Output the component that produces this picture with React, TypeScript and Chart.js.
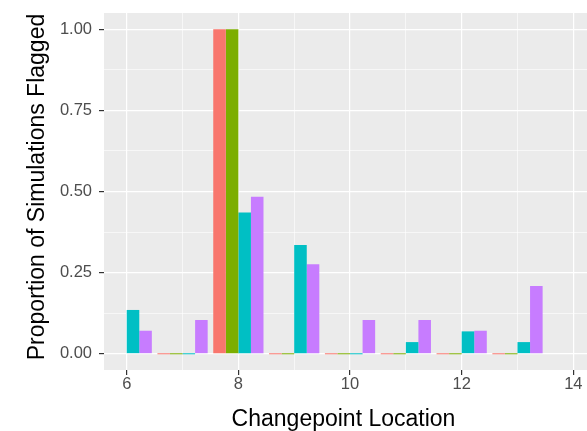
import React, { useEffect, useRef } from "react";
import { Chart, registerables } from "chart.js";

Chart.register(...registerables);

const categories = [6, 7, 8, 9, 10, 11, 12, 13];
const seriesRed = [null, 0, 1, 0, 0, 0, 0, 0];
const seriesGreen = [null, 0, 1, 0, 0, 0, 0, 0];
const seriesCyan = [0.135, 0, 0.435, 0.335, 0, 0.036, 0.069, 0.036];
const seriesPurple = [0.071, 0.104, 0.484, 0.276, 0.104, 0.104, 0.071, 0.209];
const seriesNames = ["A", "B", "C", "D"];
const seriesColors = ["#F8766D", "#7CAE00", "#00BFC4", "#C77CFF"];
const xTicks = [6, 7, 8, 9, 10, 11, 12, 13, 14];
const yTicks = [0, 0.125, 0.25, 0.375, 0.5, 0.625, 0.75, 0.875, 1];

const FONT = '"Liberation Sans", Arial, Helvetica, sans-serif';

export default function App() {
  const ref = useRef<HTMLCanvasElement | null>(null);
  useEffect(() => {
    if (!ref.current) return;
    const all = [seriesRed, seriesGreen, seriesCyan, seriesPurple];
    const panelPlugin = {
      id: "panel",
      beforeDraw(chart: any) {
        const { ctx, chartArea } = chart;
        ctx.save();
        ctx.fillStyle = "#EBEBEB";
        ctx.fillRect(chartArea.left, chartArea.top, chartArea.right - chartArea.left, chartArea.bottom - chartArea.top);
        ctx.restore();
      },
      afterDraw(chart: any) {
        const { ctx } = chart;
        ctx.save();
        ctx.fillStyle = "#000000";
        ctx.font = `23px ${FONT}`;
        ctx.textAlign = "center";
        ctx.textBaseline = "alphabetic";
        ctx.fillText("Changepoint Location", 343.5, 425.5);
        ctx.translate(43.5, 187);
        ctx.rotate(-Math.PI / 2);
        ctx.fillText("Proportion of Simulations Flagged", 0, 0);
        ctx.restore();
      },
    };
    const chart = new Chart(ref.current, {
      type: "bar",
      data: {
        datasets: all.map((s, i) => ({
          label: seriesNames[i],
          data: categories.map((c, j) => ({ x: c, y: s[j] })),
          backgroundColor: seriesColors[i],
          borderWidth: 0,
          minBarLength: 1,
          categoryPercentage: 0.9,
          barPercentage: 1,
        })),
      } as any,
      options: {
        animation: false,
        responsive: false,
        devicePixelRatio: 1,
        layout: { padding: { left: 0, right: 0, top: 13, bottom: 0 } },
        plugins: { legend: { display: false }, tooltip: { enabled: false } },
        scales: {
          x: {
            type: "linear",
            min: 5.593,
            max: 14.245,
            offset: false,
            afterBuildTicks: (scale: any) => {
              scale.ticks = xTicks.map((v) => ({ value: v }));
            },
            afterFit: (scale: any) => {
              scale.height = 61;
              scale.paddingLeft = 0;
              scale.paddingRight = 0;
            },
            ticks: {
              autoSkip: false,
              maxRotation: 0,
              padding: 0,
              color: "#4D4D4D",
              font: { family: FONT, size: 16.5 },
              callback: (v: any) => (Number(v) % 2 === 0 ? String(v) : ""),
            },
            grid: {
              offset: false,
              color: "#FFFFFF",
              lineWidth: (c: any) => (c.tick && c.tick.value % 2 === 0 ? 1.2 : 0.6),
              tickColor: (c: any) => (c.tick && c.tick.value % 2 === 0 ? "#333333" : "rgba(0,0,0,0)"),
              tickLength: 5,
              tickWidth: 1.2,
            },
            border: { display: false },
          },
          y: {
            type: "linear",
            min: -0.05,
            max: 1.05,
            afterBuildTicks: (scale: any) => {
              scale.ticks = yTicks.map((v) => ({ value: v }));
            },
            afterFit: (scale: any) => {
              scale.width = 104;
              scale.paddingTop = 0;
              scale.paddingBottom = 0;
            },
            ticks: {
              autoSkip: false,
              padding: 7,
              color: "#4D4D4D",
              font: { family: FONT, size: 16.5 },
              callback: (v: any) => (Math.abs((Number(v) * 4) % 1) < 1e-9 ? Number(v).toFixed(2) : ""),
            },
            grid: {
              color: "#FFFFFF",
              lineWidth: (c: any) => (c.tick && Math.abs((c.tick.value * 4) % 1) < 1e-9 ? 1.2 : 0.6),
              tickColor: (c: any) => (c.tick && Math.abs((c.tick.value * 4) % 1) < 1e-9 ? "#333333" : "rgba(0,0,0,0)"),
              tickLength: 5,
              tickWidth: 1.2,
            },
            border: { display: false },
          },
        },
      } as any,
      plugins: [panelPlugin],
    });
    return () => chart.destroy();
  }, []);
  return (
    <div style={{ position: "absolute", left: 0, top: 0, width: 587, height: 431, background: "#FFFFFF" }}>
      <canvas ref={ref} width={587} height={431} style={{ display: "block" }} />
    </div>
  );
}
